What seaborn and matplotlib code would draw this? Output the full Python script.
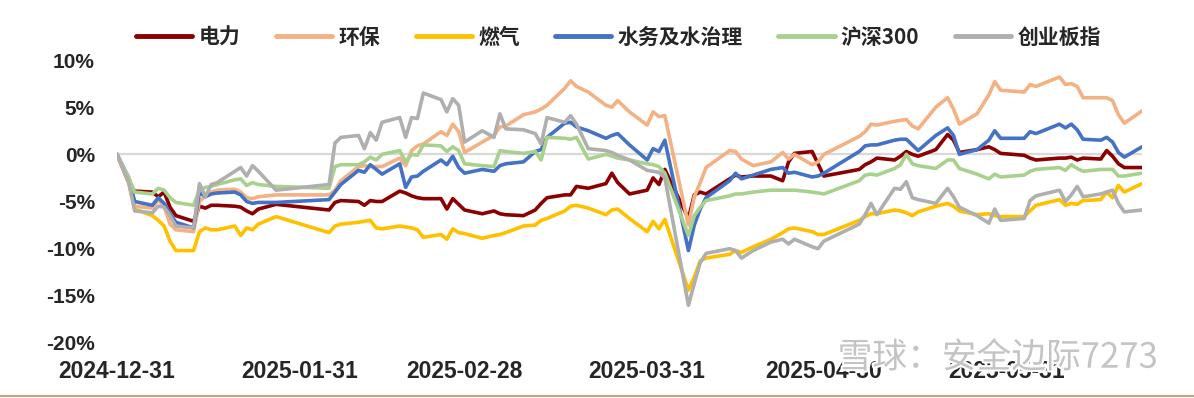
import matplotlib
matplotlib.use("Agg")
import matplotlib.pyplot as plt
import matplotlib.dates as mdates
import matplotlib.patheffects as pe
from matplotlib.font_manager import FontProperties
from matplotlib.lines import Line2D
from matplotlib.ticker import FuncFormatter, MultipleLocator
import seaborn as sns
import pandas as pd

# trading days
dates = [
    "2024-12-31", "2025-01-02", "2025-01-03", "2025-01-06", "2025-01-07", "2025-01-08", "2025-01-09", "2025-01-10",
    "2025-01-13", "2025-01-14", "2025-01-15", "2025-01-16", "2025-01-17", "2025-01-20", "2025-01-21", "2025-01-22",
    "2025-01-23", "2025-01-24", "2025-01-27", "2025-02-05", "2025-02-06", "2025-02-07", "2025-02-10", "2025-02-11",
    "2025-02-12", "2025-02-13", "2025-02-14", "2025-02-17", "2025-02-18", "2025-02-19", "2025-02-20", "2025-02-21",
    "2025-02-24", "2025-02-25", "2025-02-26", "2025-02-27", "2025-02-28", "2025-03-03", "2025-03-05", "2025-03-06",
    "2025-03-07", "2025-03-10", "2025-03-12", "2025-03-13", "2025-03-14", "2025-03-17", "2025-03-18", "2025-03-19",
    "2025-03-21", "2025-03-24", "2025-03-25", "2025-03-26", "2025-03-28", "2025-03-31", "2025-04-01", "2025-04-02",
    "2025-04-03", "2025-04-07", "2025-04-08", "2025-04-09", "2025-04-10", "2025-04-14", "2025-04-15", "2025-04-16",
    "2025-04-18", "2025-04-21", "2025-04-23", "2025-04-24", "2025-04-25", "2025-04-28", "2025-04-29", "2025-04-30",
    "2025-05-06", "2025-05-07", "2025-05-08", "2025-05-09", "2025-05-12", "2025-05-13", "2025-05-14", "2025-05-15",
    "2025-05-16", "2025-05-19", "2025-05-21", "2025-05-22", "2025-05-23", "2025-05-26", "2025-05-28", "2025-05-29",
    "2025-05-30", "2025-06-03", "2025-06-04", "2025-06-05", "2025-06-09", "2025-06-10", "2025-06-11", "2025-06-12",
    "2025-06-13", "2025-06-16", "2025-06-17", "2025-06-18", "2025-06-19", "2025-06-20", "2025-06-23",
]

# cumulative return, %
power = [
    0, -3.0, -3.9, -4.0, -4.5, -4.0, -5.6, -6.5,
    -7.1, -5.5, -5.7, -5.4, -5.4, -5.5, -5.6, -6.0,
    -6.3, -5.8, -5.3, -5.9, -5.1, -4.9, -5.0, -5.4,
    -4.9, -5.0, -5.0, -3.9, -4.1, -4.4, -4.6, -4.7,
    -4.7, -5.8, -4.7, -5.3, -5.9, -6.3, -6.0, -6.3,
    -6.4, -6.5, -5.9, -5.2, -4.6, -4.3, -4.3, -3.4,
    -3.6, -3.1, -2.0, -3.0, -4.2, -3.8, -2.5, -3.2,
    -1.6, -6.8, -4.3, -4.0, -4.2, -2.6, -2.2, -2.4,
    -2.3, -2.3, -2.8, -0.8, 0.1, 0.3, -1.0, -2.3,
    -1.6, -1.1, -0.8, -0.4, -0.6, -0.2, 0.3, 0.0,
    -0.2, 0.5, 2.1, 1.5, 0.2, 0.5, 0.8, 0.5,
    0.1, -0.1, -0.4, -0.6, -0.4, -0.4, -0.3, -0.6,
    -0.4, -0.5, 0.4, -0.2, -1.0, -1.4, -1.4,
]
env = [
    0, -3.0, -5.5, -5.7, -4.8, -5.5, -7.4, -8.0,
    -8.2, -5.0, -4.4, -4.0, -3.8, -3.7, -4.0, -4.6,
    -4.7, -4.5, -4.3, -4.3, -3.8, -2.8, -1.3, -1.2,
    -1.3, -1.3, -1.3, -0.4, -1.2, 0.4, 0.9, 1.1,
    2.4, 2.0, 3.2, 2.4, 0.2, 1.3, 2.0, 2.9,
    3.0, 4.2, 4.5, 4.8, 5.2, 7.0, 7.8, 7.2,
    6.6, 5.2, 5.0, 5.7, 4.5, 3.1, 4.5, 4.0,
    4.1, -7.5, -4.5, -3.0, -1.4, 0.4, 0.3, -0.5,
    -1.2, -0.8, 0.2, -0.5, 0.0, -1.1, -0.8, 0.0,
    1.9, 2.4, 3.2, 3.1, 3.5, 3.6, 3.7, 3.0,
    2.7, 5.0, 6.0, 4.8, 3.2, 4.3, 6.3, 7.7,
    6.8, 6.6, 7.4, 7.2, 8.2, 7.4, 7.5, 7.2,
    6.0, 6.0, 6.0, 5.7, 4.2, 3.3, 4.6,
]
gas = [
    0, -3.0, -5.8, -6.5, -7.0, -7.6, -9.2, -10.2,
    -10.2, -8.2, -7.8, -8.0, -8.0, -7.6, -8.6, -7.8,
    -8.0, -7.4, -6.6, -8.3, -7.6, -7.4, -7.2, -7.1,
    -7.0, -7.8, -7.9, -7.6, -7.7, -7.8, -8.0, -8.8,
    -8.5, -9.0, -7.9, -8.3, -8.4, -8.9, -8.6, -8.5,
    -8.3, -7.6, -7.5, -7.0, -6.8, -6.0, -5.5, -5.4,
    -5.7, -6.4, -5.9, -5.8, -6.8, -8.2, -7.1, -7.9,
    -6.9, -14.4, -13.0, -11.3, -11.0, -10.6, -10.2, -10.4,
    -9.8, -9.0, -8.3, -7.9, -7.8, -8.2, -8.5, -8.5,
    -7.0, -6.6, -6.3, -6.3, -5.9, -6.0, -6.2, -6.5,
    -6.1, -5.5, -5.2, -5.5, -6.0, -6.4, -6.3, -6.5,
    -6.6, -6.6, -6.0, -5.4, -4.8, -5.4, -5.2, -5.3,
    -4.9, -4.8, -4.0, -4.6, -3.3, -4.0, -3.1,
]
water = [
    0, -2.5, -5.0, -5.4, -4.6, -5.2, -6.3, -7.2,
    -7.8, -4.0, -4.5, -4.2, -4.1, -4.0, -4.3, -5.0,
    -5.2, -5.1, -5.1, -4.8, -4.0, -3.2, -1.7, -1.9,
    -1.1, -1.6, -2.1, -1.0, -3.5, -2.4, -2.3, -1.8,
    -0.6, -1.1, -0.2, -1.4, -2.0, -1.6, -1.8, -1.2,
    -1.0, -0.8, 0.3, 0.5, 1.8, 3.3, 3.4, 2.9,
    2.5, 1.7, 2.0, 2.2, 1.0, -0.6, 0.6, 0.3,
    1.5, -10.2, -7.5, -5.8, -4.6, -2.8, -2.0, -2.6,
    -2.2, -1.6, -1.4, -2.0, -1.9, -2.4, -2.3, -2.0,
    0.3, 0.9, 1.0, 1.0, 1.5, 1.6, 1.6, 1.0,
    0.4, 2.0, 2.8, 2.0, 0.0, 0.5, 1.5, 2.5,
    1.7, 1.7, 2.4, 2.2, 3.2, 2.8, 3.2, 2.6,
    1.6, 1.5, 1.8, 1.3, 0.2, -0.3, 0.8,
]
hs300 = [
    0, -2.5, -4.0, -4.2, -3.6, -3.8, -4.6, -5.1,
    -5.4, -3.8, -3.5, -3.4, -3.2, -2.7, -2.6, -3.3,
    -3.0, -3.2, -3.4, -3.6, -1.3, -1.1, -1.1, -0.8,
    -0.3, -0.6, 0.0, 0.4, -0.8, 0.0, -0.1, 1.0,
    0.9, 0.3, 0.8, 0.4, -1.0, -1.2, -1.3, 0.4,
    0.3, 0.1, 0.3, -0.6, 1.8, 1.7, 1.6, 1.8,
    -0.5, 0.0, -0.2, -0.4, -0.6, -1.0, -1.1, -1.3,
    -2.0, -8.6, -6.5, -5.6, -4.9, -4.4, -4.2, -4.2,
    -4.0, -3.8, -3.8, -3.8, -3.8, -4.0, -4.1, -4.2,
    -2.8, -2.2, -2.1, -2.2, -1.5, -1.1, 0.0, -1.0,
    -1.2, -1.5, -0.6, -0.6, -1.5, -2.1, -2.6, -2.1,
    -2.4, -2.2, -1.8, -1.6, -1.4, -1.7, -1.1, -1.5,
    -1.8, -1.6, -1.6, -1.6, -2.3, -2.3, -2.0,
]
chinext = [
    0, -3.0, -6.0, -6.2, -5.5, -5.6, -6.5, -7.6,
    -7.8, -3.1, -4.5, -3.2, -3.0, -1.8, -1.4, -2.3,
    -1.2, -1.8, -3.8, -3.2, 1.2, 1.8, 2.0, 0.6,
    2.3, 1.5, 3.4, 3.9, 1.8, 3.9, 3.8, 6.5,
    5.8, 4.5, 5.9, 5.2, 1.3, 2.5, 1.8, 4.3,
    2.7, 2.6, 2.2, 1.1, 3.9, 3.4, 4.1, 3.2,
    0.6, 0.4, 0.2, -0.1, -0.6, -1.7, -1.8, -1.9,
    -2.5, -16.0, -13.7, -11.5, -10.5, -10.0, -10.2, -11.0,
    -10.2, -9.3, -9.0, -9.5, -9.0, -9.8, -10.0, -9.2,
    -7.4, -6.4, -5.2, -6.4, -3.6, -3.7, -2.9, -4.6,
    -4.8, -5.2, -3.6, -4.5, -5.6, -6.5, -7.3, -5.8,
    -7.0, -6.8, -4.9, -4.4, -3.8, -5.0, -4.3, -3.4,
    -4.5, -4.2, -4.0, -3.8, -5.2, -6.1, -5.9,
]

names = ["电力", "环保", "燃气", "水务及水治理", "沪深300", "创业板指"]
colors = ["#8B0000", "#F4B183", "#FFC000", "#4472C4", "#A9D18E", "#AFAFAF"]
tick_dates = ["2024-12-31", "2025-01-31", "2025-02-28", "2025-03-31", "2025-04-30", "2025-05-31"]

series = [power, env, gas, water, hs300, chinext]
frames = []
for name, vals in zip(names, series):
    frames.append(pd.DataFrame({"date": pd.to_datetime(dates), "ret": vals, "name": name}))
df = pd.concat(frames, ignore_index=True)

sns.set_theme(style="white")
plt.rcParams["font.family"] = ["Liberation Sans", "DejaVu Sans"]
plt.rcParams["axes.unicode_minus"] = False

fig = plt.figure(figsize=(11.94, 3.98), dpi=100)
ax = fig.add_axes([117 / 1194, 1 - 343 / 398, 1025 / 1194, 283 / 398])

ax.axhline(0, color="#D9D9D9", lw=1.6, zorder=0)
sns.lineplot(data=df, x="date", y="ret", hue="name", hue_order=names,
             palette=dict(zip(names, colors)), linewidth=2.6, ax=ax)

ax.set_xlim(pd.Timestamp("2024-12-31"), pd.Timestamp("2025-06-23"))
ax.set_ylim(-20, 10)
ax.yaxis.set_major_locator(MultipleLocator(5))
ax.yaxis.set_major_formatter(FuncFormatter(lambda v, p: f"{v:.0f}%"))
ax.set_xticks(pd.to_datetime(tick_dates))
ax.xaxis.set_major_formatter(mdates.DateFormatter("%Y-%m-%d"))
ax.set_xlabel("")
ax.set_ylabel("")
for s in ax.spines.values():
    s.set_visible(False)
ax.tick_params(axis="y", length=0, pad=16, labelsize=15)
ax.tick_params(axis="x", length=0, pad=12, labelsize=16.5)
for lab in ax.get_xticklabels() + ax.get_yticklabels():
    lab.set_fontweight("bold")

leg_font = FontProperties(family=["Noto Sans CJK SC", "DejaVu Sans"], weight="bold", size=15)
sns.move_legend(ax, "center", bbox_to_anchor=(0.518, 0.907), bbox_transform=fig.transFigure,
                ncol=6, frameon=False, title=None, prop=leg_font,
                handlelength=2.7, handletextpad=0.3, columnspacing=1.7)
for h in ax.get_legend().get_lines():
    h.set_linewidth(3.5)

# watermark of the source picture
fig.text(0.97, 0.10, "雪球：安全边际7273", ha="right", va="center", fontsize=25,
         color="#C4C4C4", family=["Noto Sans CJK SC", "DejaVu Sans"], zorder=5,
         path_effects=[pe.withStroke(linewidth=3, foreground="white")])
fig.add_artist(Line2D([0, 1], [0.004, 0.004], transform=fig.transFigure, color="#C9A27E", lw=1.5))

fig.savefig("out.png", dpi=100)
plt.close(fig)
